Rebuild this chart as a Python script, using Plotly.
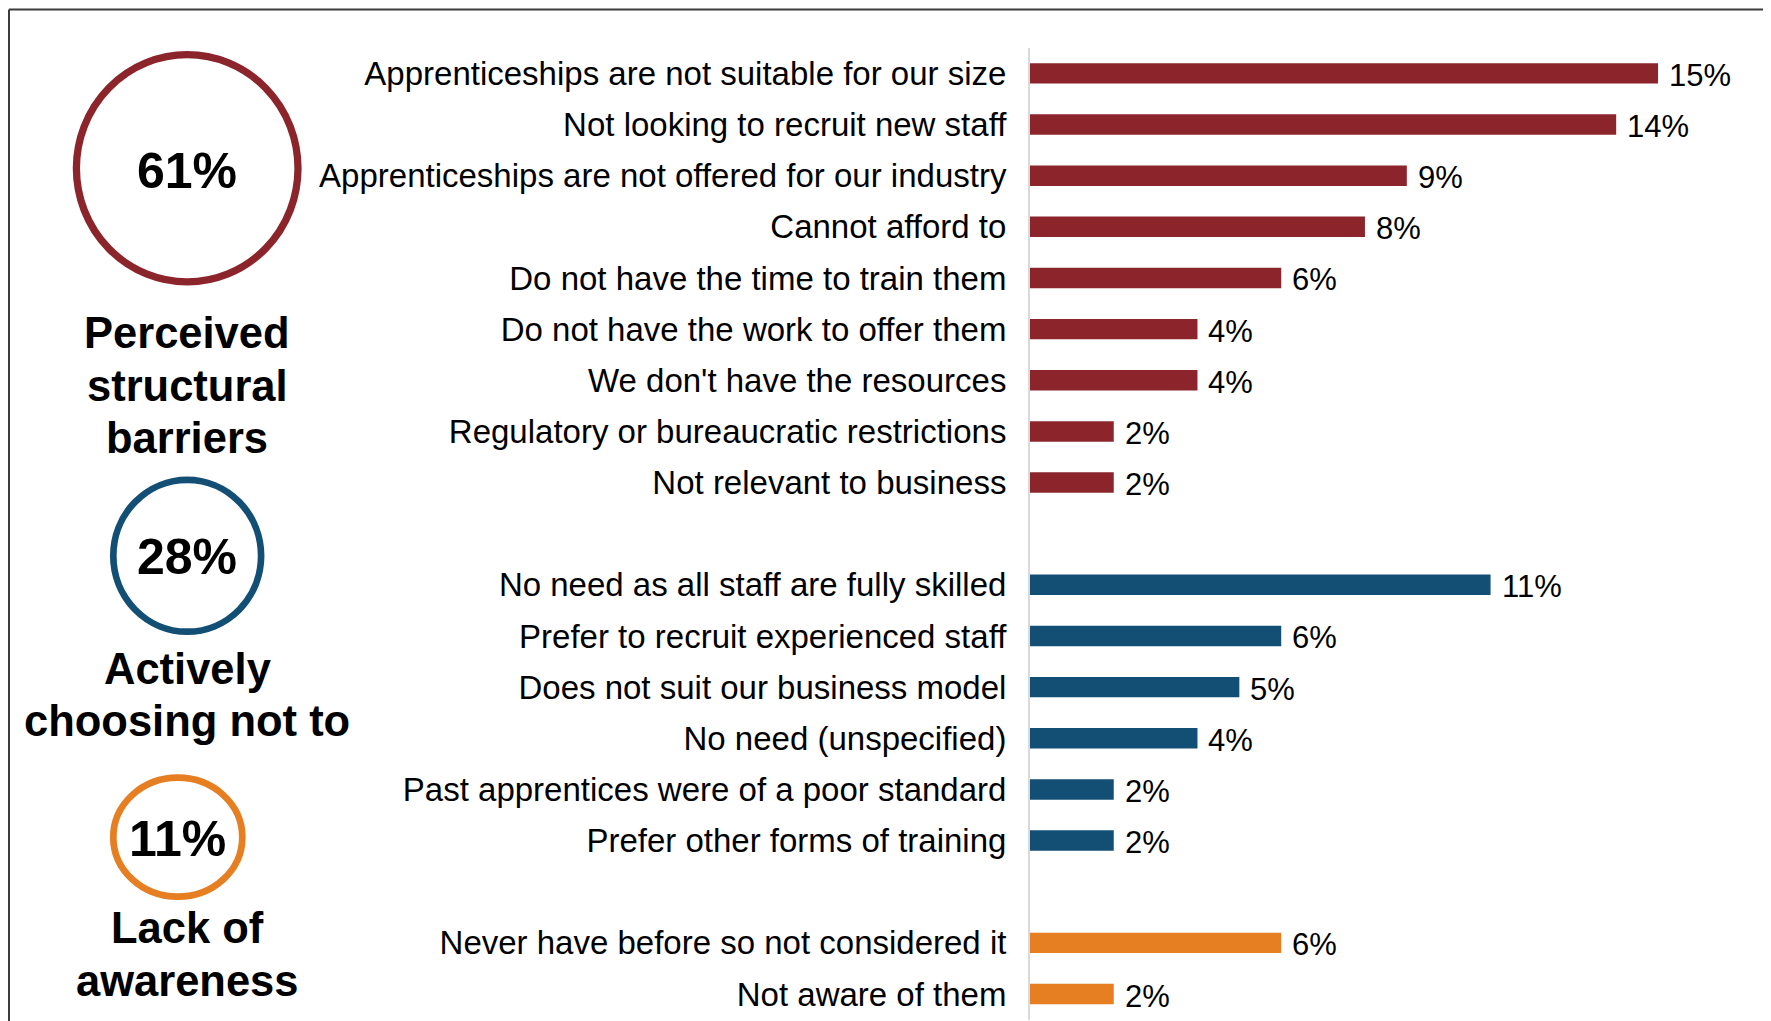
import plotly.graph_objects as go

# 数据
structural_labels = [
    "Apprenticeships are not suitable for our size",
    "Not looking to recruit new staff",
    "Apprenticeships are not offered for our industry",
    "Cannot afford to",
    "Do not have the time to train them",
    "Do not have the work to offer them",
    "We don't have the resources",
    "Regulatory or bureaucratic restrictions",
    "Not relevant to business",
]
structural_values = [15, 14, 9, 8, 6, 4, 4, 2, 2]

choosing_labels = [
    "No need as all staff are fully skilled",
    "Prefer to recruit experienced staff",
    "Does not suit our business model",
    "No need (unspecified)",
    "Past apprentices were of a poor standard",
    "Prefer other forms of training",
]
choosing_values = [11, 6, 5, 4, 2, 2]

awareness_labels = [
    "Never have before so not considered it",
    "Not aware of them",
]
awareness_values = [6, 2]

group_titles = [
    ["Perceived", "structural", "barriers"],
    ["Actively", "choosing not to"],
    ["Lack of", "awareness"],
]
group_totals = [61, 28, 11]
group_colors = ['#8B252B', '#134F75', '#E67E22']

# 窗口尺寸；页面 body 自带 8px 边距，坐标按屏幕像素写，再扣掉偏移
W, H = 1771, 1021
OFF = 8
FW, FH = W - OFF, H - OFF
FONT = "Liberation Sans, Arial, sans-serif"


def px(x):
    return (x - OFF) / FW


def py(y):
    return 1 - (y - OFF) / FH


groups = [
    (structural_labels, structural_values),
    (choosing_labels, choosing_values),
    (awareness_labels, awareness_values),
]

# 类别顺序（组间留空行）
category_order = structural_labels + [" "] + choosing_labels + ["  "] + awareness_labels
n_rows = len(category_order)

fig = go.Figure()
annotations = []

for (labels, values), color in zip(groups, group_colors):
    fig.add_trace(go.Bar(
        x=values,
        y=labels,
        orientation='h',
        marker=dict(color=color, line=dict(width=0)),
        width=0.4,
        showlegend=False,
        hoverinfo='skip'
    ))
    for lab, val in zip(labels, values):
        annotations.append(dict(
            x=val, y=lab, xref='x', yref='y',
            text=f"{val}%", showarrow=False,
            xanchor='left', yanchor='middle',
            xshift=9, yshift=-2,
            font=dict(family=FONT, size=31, color='black')
        ))

# 左侧圆圈和标题
circles = [
    dict(cx=187.2, cy=168.3, rx=110.8, ry=113.6, w=7.3, tx=187, ty=170.5),
    dict(cx=187.2, cy=555.8, rx=73.9, ry=75.9, w=6.7, tx=187, ty=557),
    dict(cx=177.8, cy=837.2, rx=64.5, ry=59.5, w=6.7, tx=177, ty=839),
]
title_lines_y = [[333, 386, 438], [669, 721], [928, 981]]

shapes = []
for c, color, total, lines, ys in zip(circles, group_colors, group_totals, group_titles, title_lines_y):
    shapes.append(dict(
        type='circle', xref='paper', yref='paper',
        x0=px(c['cx'] - c['rx']), x1=px(c['cx'] + c['rx']),
        y0=py(c['cy'] + c['ry']), y1=py(c['cy'] - c['ry']),
        line=dict(color=color, width=c['w']),
        fillcolor='rgba(0,0,0,0)'
    ))
    annotations.append(dict(
        x=px(c['tx']), y=py(c['ty']), xref='paper', yref='paper',
        text=f"<b>{total}%</b>", showarrow=False,
        xanchor='center', yanchor='middle',
        font=dict(family=FONT, size=50, color='black')
    ))
    for line, yy in zip(lines, ys):
        annotations.append(dict(
            x=px(187), y=py(yy), xref='paper', yref='paper',
            text=f"<b>{line}</b>", showarrow=False,
            xanchor='center', yanchor='middle',
            font=dict(family=FONT, size=43.5, color='black')
        ))

# 外框（上、左）
shapes.append(dict(type='line', xref='paper', yref='paper',
                   x0=px(9), x1=1, y0=py(9.5), y1=py(9.5),
                   line=dict(color='#3C3C3C', width=2)))
shapes.append(dict(type='line', xref='paper', yref='paper',
                   x0=px(9), x1=px(9), y0=py(9.5), y1=0,
                   line=dict(color='#3C3C3C', width=2)))

px_per_pct = 41.87
x_left, x_right = 1030, W - 10
plot_top, plot_bottom = 47.8, 1019.6

fig.update_layout(
    width=FW, height=FH,
    margin=dict(l=0, r=0, t=0, b=0),
    barmode='overlay',
    plot_bgcolor='white',
    paper_bgcolor='white',
    showlegend=False,
    xaxis=dict(
        domain=[px(x_left), px(x_right)],
        range=[0, (x_right - x_left) / px_per_pct],
        showgrid=False, zeroline=False, showticklabels=False,
        showline=False, fixedrange=True
    ),
    yaxis=dict(
        domain=[py(plot_bottom), py(plot_top)],
        type='category',
        categoryorder='array',
        categoryarray=category_order,
        range=[n_rows - 0.5, -0.5],
        showgrid=False, zeroline=False,
        showline=True, linecolor='#D9D9D9', linewidth=2,
        ticks='', ticklabelstandoff=15,
        tickfont=dict(family=FONT, size=33, color='black'),
        automargin=False, fixedrange=True
    ),
    shapes=shapes,
    annotations=annotations
)

fig.write_html("out.html")
